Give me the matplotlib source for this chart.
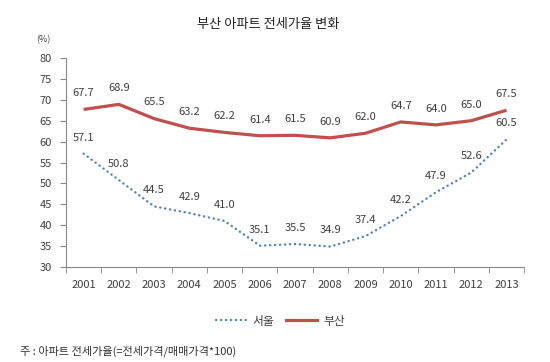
import matplotlib
matplotlib.use("Agg")
import matplotlib.pyplot as plt
from matplotlib.lines import Line2D

plt.rcParams['font.family'] = ['Noto Sans CJK KR', 'DejaVu Sans']

years = ['2001', '2002', '2003', '2004', '2005', '2006', '2007',
         '2008', '2009', '2010', '2011', '2012', '2013']
seoul = [57.1, 50.8, 44.5, 42.9, 41.0, 35.1, 35.5, 34.9, 37.4, 42.2, 47.9, 52.6, 60.5]
busan = [67.7, 68.9, 65.5, 63.2, 62.2, 61.4, 61.5, 60.9, 62.0, 64.7, 64.0, 65.0, 67.5]
yticks = [30, 35, 40, 45, 50, 55, 60, 65, 70, 75, 80]

blue = '#4F81BD'
red = '#C0504D'
txt = '#404040'
dot = (0, (0.1, 2.0))

fig = plt.figure(figsize=(5.5, 3.62), dpi=100)
ax = fig.add_axes([0.12, 0.2624, 0.833, 0.5774])
x = list(range(len(years)))
ax.plot(x, busan, color=red, lw=2.3, solid_capstyle='butt')
ax.plot(x, seoul, color=blue, lw=1.7, linestyle=dot, dash_capstyle='round')

for xi, v in zip(x, busan):
    ax.annotate(f'{v:.1f}', (xi, v), xytext=(0, 8), textcoords='offset points',
                ha='center', va='bottom', fontsize=8, color=txt)
for xi, v in zip(x, seoul):
    ax.annotate(f'{v:.1f}', (xi, v), xytext=(0, 8), textcoords='offset points',
                ha='center', va='bottom', fontsize=8, color=txt)

ax.set_xlim(-0.5, len(years) - 0.5)
ax.set_ylim(30, 80)
ax.set_yticks(yticks)
ax.set_xticks(x)
ax.set_xticklabels(years)
ax.set_xticks([i + 0.5 for i in x[:-1]] + [-0.5, len(years) - 0.5], minor=True)
ax.tick_params(axis='x', which='major', length=0, pad=9, labelsize=8, labelcolor=txt)
ax.tick_params(axis='x', which='minor', length=4, direction='out', color='#888888')
ax.tick_params(axis='y', length=4, direction='out', color='#888888', labelsize=8,
               labelcolor=txt, pad=6)
for s in ['top', 'right']:
    ax.spines[s].set_visible(False)
for s in ['left', 'bottom']:
    ax.spines[s].set_color('#888888')
    ax.spines[s].set_linewidth(0.8)

fig.text(0.488, 0.931, '부산 아파트 전세가율 변화', ha='center', va='center',
         fontsize=9.5, color='#222222')
fig.text(0.078, 0.89, '(%)', ha='center', va='center', fontsize=6.5, color=txt)

handles = [Line2D([], [], color=blue, lw=1.7, linestyle=dot, dash_capstyle='round'),
           Line2D([], [], color=red, lw=2.3)]
fig.legend(handles, ['서울', '부산'], loc='center', bbox_to_anchor=(0.51, 0.113),
           ncol=2, frameon=False, fontsize=8.5, handlelength=2.6, handletextpad=0.5,
           columnspacing=1.0, labelcolor=txt)

fig.text(0.036, 0.03, '주 : 아파트 전세가율(=전세가격/매매가격*100)', ha='left', va='center',
         fontsize=8, color='#333333')

fig.savefig('out.png', dpi=100)
